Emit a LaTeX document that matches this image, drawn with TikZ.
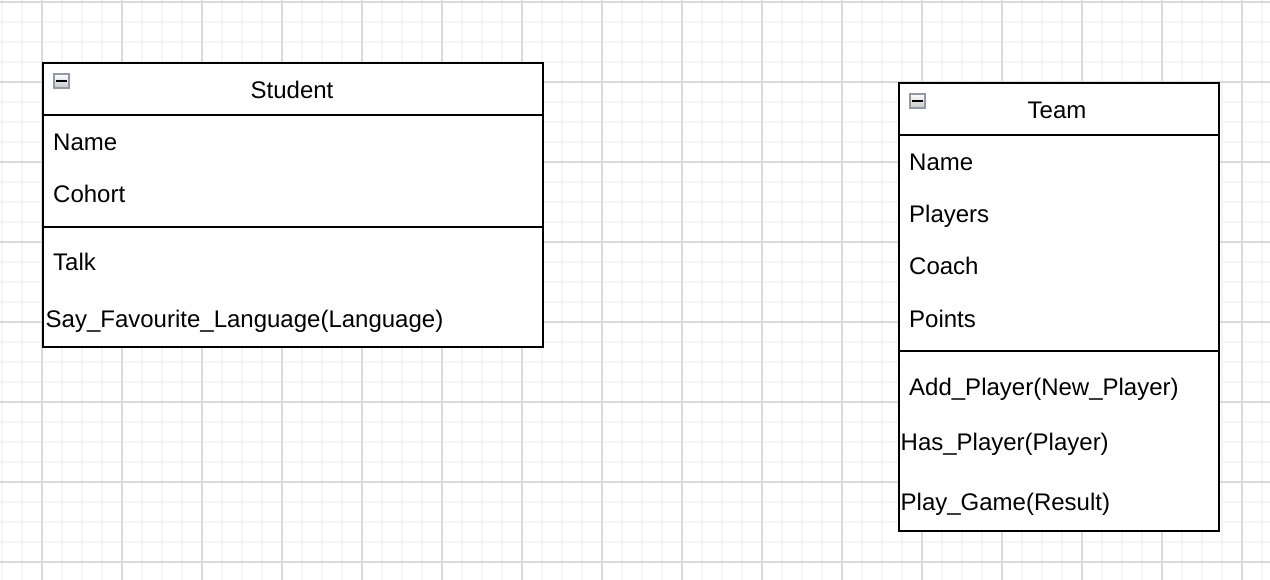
\documentclass[tikz,border=0pt]{standalone}
\usepackage{fontspec}
\setmainfont{Liberation Sans}
\definecolor{grid_minor}{HTML}{F4F4F4}
\definecolor{grid_major}{HTML}{DADADA}
\definecolor{icon_border}{HTML}{9199A6}

\tikzset{
  classbox/.style={draw=black, line width=2pt, fill=white, inner sep=0pt, outer sep=0pt, anchor=north west},
  member/.style={inner sep=0pt, anchor=base west, font=\fontsize{24}{28}\selectfont},
  title/.style={inner sep=0pt, anchor=base, font=\fontsize{24}{28}\selectfont},
  collapse/.style={draw=icon_border, line width=1.6pt, top color=white, bottom color=gray!45,
                   minimum width=15pt, minimum height=14pt, inner sep=0pt, outer sep=0pt, anchor=north west}
}

\begin{document}
\begin{tikzpicture}[
                x=1pt,
                y=-1pt,
                line cap=rect
            ]
            \useasboundingbox (0,0) rectangle (1270,580);
            \fill[white] (0,0) rectangle (1270,580);

            % Draw background grid
            \foreach \gx in {2,22,...,1262} \draw[grid_minor, line width=1.6pt] (\gx,0) -- (\gx,580);
            \foreach \gy in {2,22,...,562} \draw[grid_minor, line width=1.6pt] (0,\gy) -- (1270,\gy);
            \foreach \gx in {42,122,...,1242} \draw[grid_major, line width=1.3pt] (\gx,0) -- (\gx,580);
            \foreach \gy in {2,82,...,562} \draw[grid_major, line width=1.3pt] (0,\gy) -- (1270,\gy);

            % Student class
            \node[classbox, minimum width=500pt, minimum height=284pt] (student) at (43,63) {};
            \draw[line width=2pt] (43,115) -- (543,115);
            \draw[line width=2pt] (43,227) -- (543,227);
            \node[collapse] (studenticon) at (54,74) {};
            \draw[line width=2pt] ([xshift=3pt]studenticon.west) -- ([xshift=-3pt]studenticon.east);
            \node[title] (studenttitle) at (292,99) {Student};
            \node[member] (studentname) at (53,151) {Name};
            \node[member] (studentcohort) at (53,203) {Cohort};
            \node[member] (studenttalk) at (53,271) {Talk};
            \node[member] (studentsay) at (45.5,327) {Say\_Favourite\_Language(Language)};

            % Team class
            \node[classbox, minimum width=320pt, minimum height=448pt] (team) at (899,83) {};
            \draw[line width=2pt] (899,135) -- (1219,135);
            \draw[line width=2pt] (899,351) -- (1219,351);
            \node[collapse] (teamicon) at (910,94) {};
            \draw[line width=2pt] ([xshift=3pt]teamicon.west) -- ([xshift=-3pt]teamicon.east);
            \node[title] (teamtitle) at (1057,119) {Team};
            \node[member] (teamname) at (909,171) {Name};
            \node[member] (teamplayers) at (909,223) {Players};
            \node[member] (teamcoach) at (909,275) {Coach};
            \node[member] (teampoints) at (909,327) {Points};
            \node[member] (teamadd) at (909,395) {Add\_Player(New\_Player)};
            \node[member] (teamhas) at (900.5,450) {Has\_Player(Player)};
            \node[member] (teamplay) at (900.5,510) {Play\_Game(Result)};
        \end{tikzpicture}
\end{document}
